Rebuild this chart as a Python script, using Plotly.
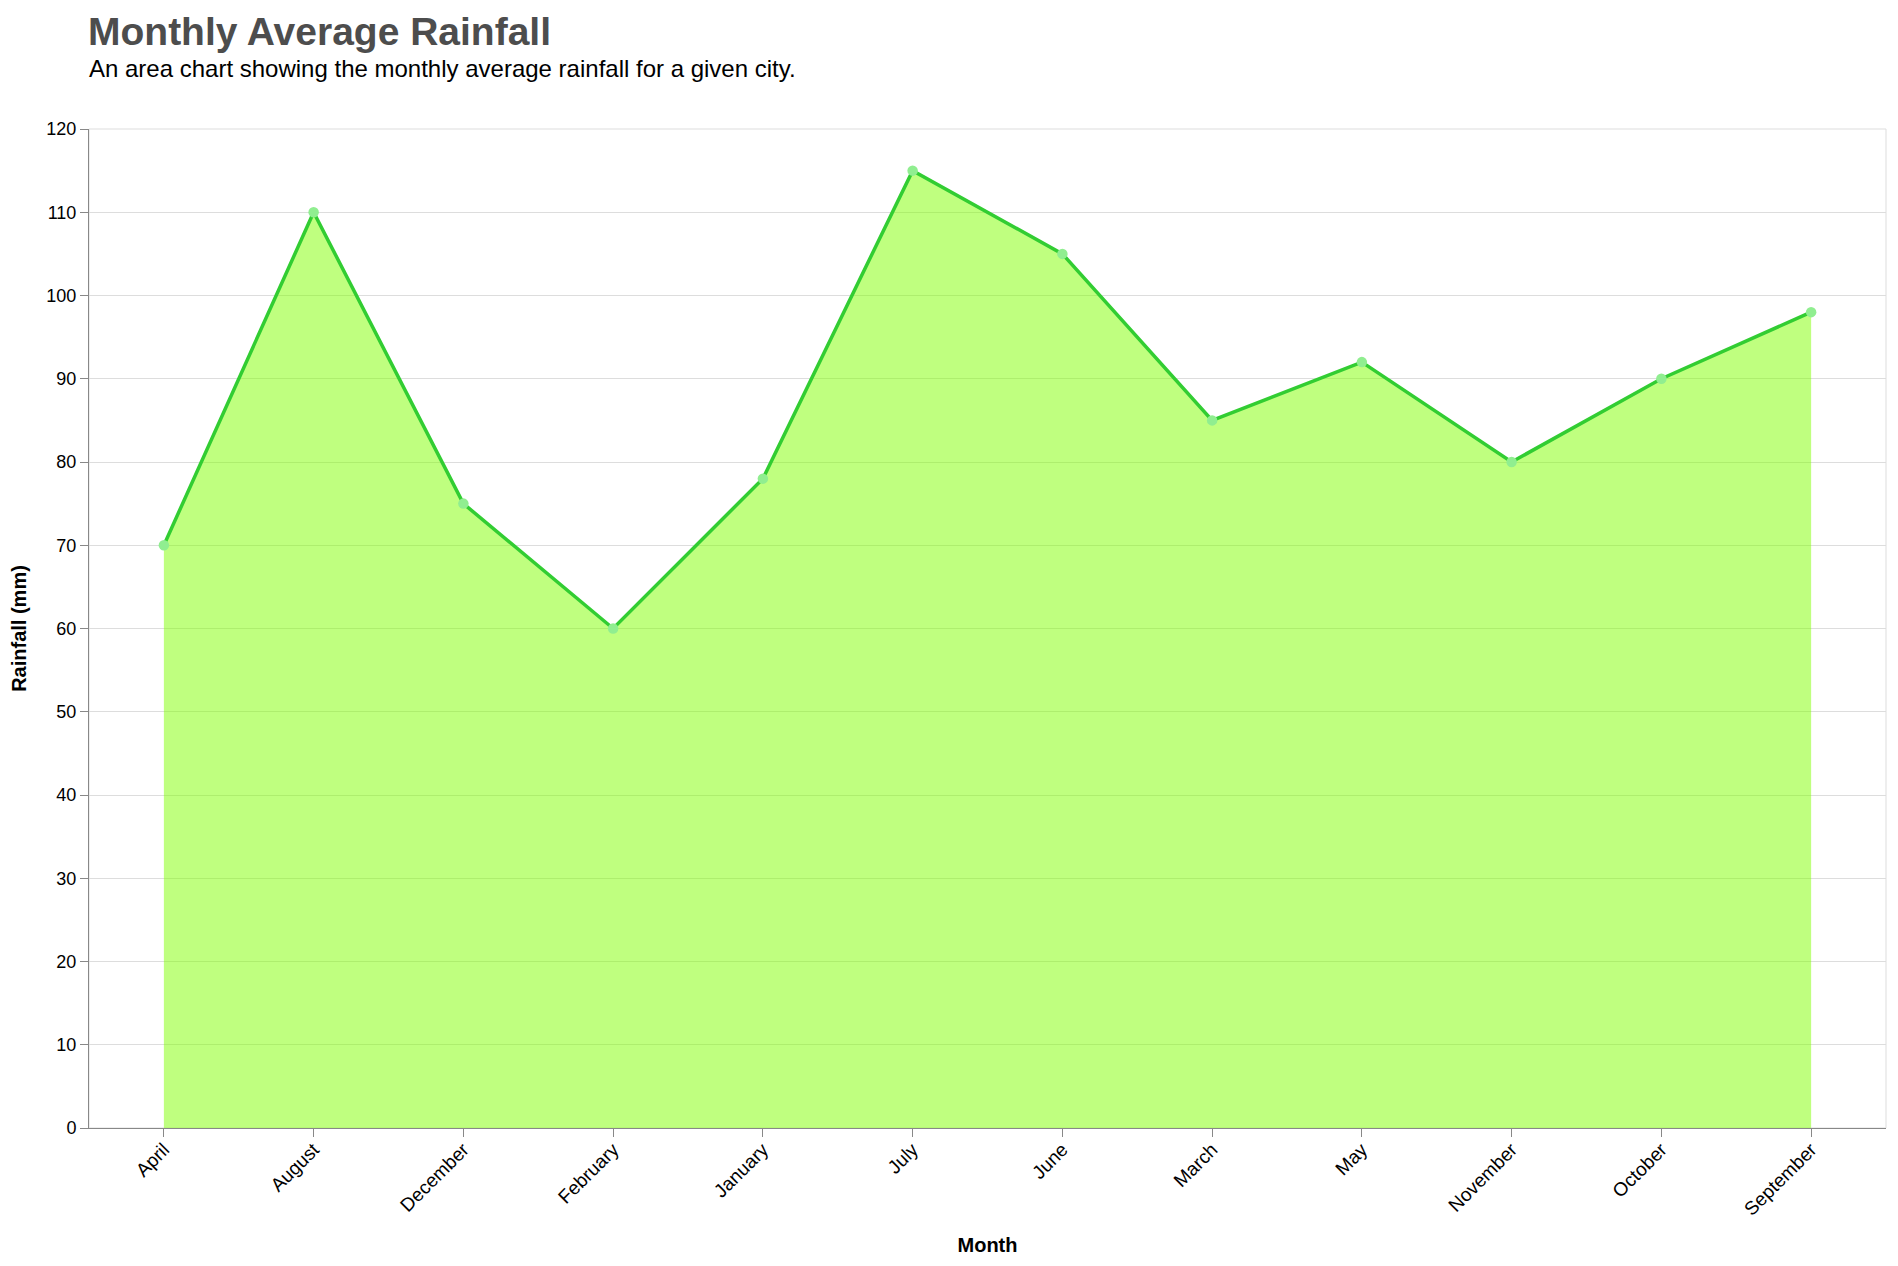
import plotly.graph_objects as go

# monthly rainfall, in the (alphabetical) order shown on the x axis
months = ["April", "August", "December", "February", "January", "July",
          "June", "March", "May", "November", "October", "September"]
rainfall_mm = [70, 110, 75, 60, 78, 115, 105, 85, 92, 80, 90, 98]

fig = go.Figure()

# filled area + line
fig.add_trace(go.Scatter(
    x=months, y=rainfall_mm,
    mode="lines",
    fill="tozeroy",
    fillcolor="rgba(128,255,0,0.5)",
    line=dict(color="#32CD32", width=3.5),
    hoverinfo="skip",
    showlegend=False,
))

# points on top
fig.add_trace(go.Scatter(
    x=months, y=rainfall_mm,
    mode="markers",
    marker=dict(color="#90EE90", size=10.5),
    showlegend=False,
))

# page body has an 8px margin, so keep the figure inside the window
fig.update_layout(
    width=1882, height=1250,
    paper_bgcolor="white", plot_bgcolor="white",
    font=dict(family="Liberation Sans, Arial, sans-serif", color="black"),
    margin=dict(l=81, r=4, t=121, b=130),
    annotations=[
        dict(text="<b>Monthly Average Rainfall</b>", xref="paper", yref="paper",
             x=0, y=1, xanchor="left", yanchor="bottom", yshift=74, xshift=-3,
             showarrow=False, font=dict(size=39, color="#4d4d4d")),
        dict(text="An area chart showing the monthly average rainfall for a given city.",
             xref="paper", yref="paper", x=0, y=1, xanchor="left", yanchor="bottom",
             yshift=45, xshift=-2, showarrow=False, font=dict(size=24, color="black")),
    ],
    shapes=[
        dict(type="rect", xref="paper", yref="paper", x0=0, x1=1, y0=0, y1=1,
             line=dict(color="#dddddd", width=1), layer="below"),
    ],
)

fig.update_xaxes(
    type="category",
    range=[-0.5, len(months) - 0.5],
    tickangle=-45,
    tickfont=dict(size=19),
    ticklabelstandoff=-6,
    ticks="outside", ticklen=8, tickcolor="#888888",
    showline=True, linecolor="#888888", linewidth=1,
    showgrid=False, zeroline=False,
    title=dict(text="<b>Month</b>", font=dict(size=20), standoff=19),
)

fig.update_yaxes(
    range=[0, 120],
    dtick=10,
    tickfont=dict(size=18),
    ticks="outside", ticklen=8, tickcolor="#888888",
    showline=True, linecolor="#888888", linewidth=1,
    showgrid=True, gridcolor="#dddddd", gridwidth=1,
    zeroline=False,
    title=dict(text="<b>Rainfall (mm)</b>", font=dict(size=20), standoff=16),
)

fig.write_html("out.html")
